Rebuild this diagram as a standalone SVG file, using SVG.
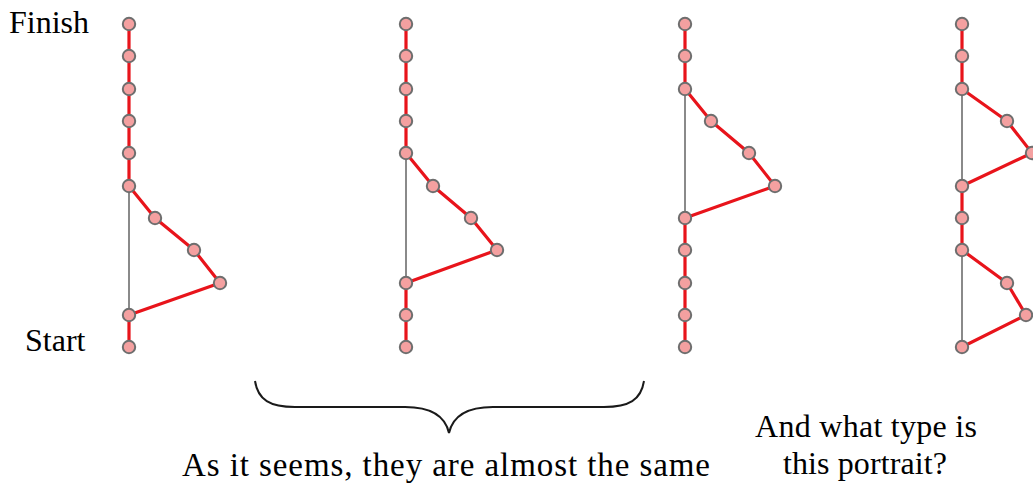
<svg xmlns="http://www.w3.org/2000/svg" width="1033" height="484" viewBox="0 0 1033 484">
<style>
.t{font-family:"Liberation Serif","Times New Roman",serif;font-size:32px;fill:#000}
.r{stroke:#e8141b;stroke-width:3.2;fill:none;stroke-linejoin:round}
.g{stroke:#8a8a8a;stroke-width:2;fill:none}
.n{fill:#f4a0a0;stroke:#6e6e6e;stroke-width:2}
</style>
<rect width="1033" height="484" fill="#fff"/>
<g id="connectors">
<line class="g" x1="129" y1="186" x2="129" y2="315"/>
<polyline class="r" points="129,24 129,186 155,218 194,250 220,283 129,315 129,347"/>
<line class="g" x1="406" y1="153" x2="406" y2="283"/>
<polyline class="r" points="406,24 406,153 433,186 471,218 497,250 406,283 406,347"/>
<line class="g" x1="685" y1="89" x2="685" y2="218"/>
<polyline class="r" points="685,24 685,89 711,121 749,153 775,186 685,218 685,347"/>
<line class="g" x1="962" y1="89" x2="962" y2="186"/>
<line class="g" x1="962" y1="250" x2="962" y2="347"/>
<polyline class="r" points="962,24 962,89 1007,121 1032,153 962,186 962,250 1007,283 1026,315 962,347"/>
</g>
<g id="portrait1">
<circle class="n" cx="129" cy="24" r="6.2"/><circle class="n" cx="129" cy="56" r="6.2"/><circle class="n" cx="129" cy="89" r="6.2"/><circle class="n" cx="129" cy="121" r="6.2"/><circle class="n" cx="129" cy="153" r="6.2"/><circle class="n" cx="129" cy="186" r="6.2"/><circle class="n" cx="155" cy="218" r="6.2"/><circle class="n" cx="194" cy="250" r="6.2"/><circle class="n" cx="220" cy="283" r="6.2"/><circle class="n" cx="129" cy="315" r="6.2"/><circle class="n" cx="129" cy="347" r="6.2"/>
</g>
<g id="portrait2">
<circle class="n" cx="406" cy="24" r="6.2"/><circle class="n" cx="406" cy="56" r="6.2"/><circle class="n" cx="406" cy="89" r="6.2"/><circle class="n" cx="406" cy="121" r="6.2"/><circle class="n" cx="406" cy="153" r="6.2"/><circle class="n" cx="433" cy="186" r="6.2"/><circle class="n" cx="471" cy="218" r="6.2"/><circle class="n" cx="497" cy="250" r="6.2"/><circle class="n" cx="406" cy="283" r="6.2"/><circle class="n" cx="406" cy="315" r="6.2"/><circle class="n" cx="406" cy="347" r="6.2"/>
</g>
<g id="portrait3">
<circle class="n" cx="685" cy="24" r="6.2"/><circle class="n" cx="685" cy="56" r="6.2"/><circle class="n" cx="685" cy="89" r="6.2"/><circle class="n" cx="711" cy="121" r="6.2"/><circle class="n" cx="749" cy="153" r="6.2"/><circle class="n" cx="775" cy="186" r="6.2"/><circle class="n" cx="685" cy="218" r="6.2"/><circle class="n" cx="685" cy="250" r="6.2"/><circle class="n" cx="685" cy="283" r="6.2"/><circle class="n" cx="685" cy="315" r="6.2"/><circle class="n" cx="685" cy="347" r="6.2"/>
</g>
<g id="portrait4">
<circle class="n" cx="962" cy="24" r="6.2"/><circle class="n" cx="962" cy="56" r="6.2"/><circle class="n" cx="962" cy="89" r="6.2"/><circle class="n" cx="1007" cy="121" r="6.2"/><circle class="n" cx="1032" cy="153" r="6.2"/><circle class="n" cx="962" cy="186" r="6.2"/><circle class="n" cx="962" cy="218" r="6.2"/><circle class="n" cx="962" cy="250" r="6.2"/><circle class="n" cx="1007" cy="283" r="6.2"/><circle class="n" cx="1026" cy="315" r="6.2"/><circle class="n" cx="962" cy="347" r="6.2"/>
</g>
<g id="brace">
<path d="M255,381 C258,400 270,407 295,407 L405,407 C430,407 445,415 449,433 C453,415 468,407 493,407 L604,407 C629,407 641,400 644,381" fill="none" stroke="#1a1a1a" stroke-width="2"/>
</g>
<g id="labels">
<text class="t" x="9" y="33">Finish</text>
<text class="t" x="25" y="351">Start</text>
<text class="t" x="182" y="476" style="font-size:33px" textLength="528" lengthAdjust="spacing">As it seems, they are almost the same</text>
<text class="t" x="755" y="437" textLength="222" lengthAdjust="spacing">And what type is</text>
<text class="t" x="783" y="474" textLength="164" lengthAdjust="spacing">this portrait?</text>
</g>
</svg>
